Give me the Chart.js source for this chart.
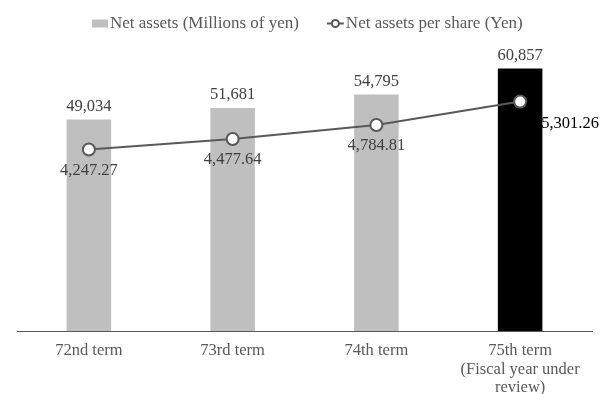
<!DOCTYPE html>
<html>
<head>
<meta charset="utf-8">
<title>Net assets</title>
<script src="https://cdn.jsdelivr.net/npm/chart.js"></script>
<style>
  html, body { margin: 0; padding: 0; background: #fff; }
  #wrap { width: 613px; height: 394px; }
</style>
</head>
<body>
<div id="wrap"><canvas id="assetsChart"></canvas></div>
<script>
// fiscal terms and the two series
const terms = ['72nd term', '73rd term', '74th term', ['75th term', '(Fiscal year under', 'review)']];
const netAssets = [49034, 51681, 54795, 60857];       // millions of yen
const perShare = [4247.27, 4477.64, 4784.81, 5301.26]; // yen
const seriesNames = ['Net assets (Millions of yen)', 'Net assets per share (Yen)'];

const FONT = '"Liberation Serif", "Times New Roman", serif';
const FONT_SIZE = 16.5;
const GREY_TEXT = '#595959';
const LABEL_TEXT = '#404040';
const LINE_GREY = '#595959';

// current year bar is highlighted in black
const barColors = netAssets.map((v, i) => i === netAssets.length - 1 ? '#000000' : '#bfbfbf');

// legend drawn at the top: grey box + line-with-marker
const topLegend = {
    id: 'topLegend',
    afterDraw(chart) {
        const ctx = chart.ctx;
        ctx.save();
        ctx.font = '17px ' + FONT;
        ctx.textBaseline = 'middle';
        ctx.textAlign = 'left';
        const y = 23.5;
        const t1 = ctx.measureText(seriesNames[0]).width;
        let x = 92;

        ctx.fillStyle = '#bfbfbf';
        ctx.fillRect(x, y - 4, 16, 8);
        x += 18;
        ctx.fillStyle = GREY_TEXT;
        ctx.fillText(seriesNames[0], x, y);
        x += t1 + 28;

        ctx.strokeStyle = LINE_GREY;
        ctx.lineWidth = 2;
        ctx.beginPath();
        ctx.moveTo(x, y);
        ctx.lineTo(x + 17, y);
        ctx.stroke();
        ctx.beginPath();
        ctx.arc(x + 8.5, y, 3.5, 0, Math.PI * 2);
        ctx.fillStyle = '#fff';
        ctx.fill();
        ctx.stroke();
        x += 19;
        ctx.fillStyle = GREY_TEXT;
        ctx.fillText(seriesNames[1], x, y);
        ctx.restore();
    }
};

// value labels: above bars, below line points (last one to the right)
const valueLabels = {
    id: 'valueLabels',
    afterDatasetsDraw(chart) {
        const ctx = chart.ctx;
        ctx.save();
        ctx.font = FONT_SIZE + 'px ' + FONT;
        ctx.textBaseline = 'middle';
        chart.getDatasetMeta(0).data.forEach((bar, i) => {
            ctx.textAlign = 'center';
            ctx.fillStyle = LABEL_TEXT;
            ctx.fillText(netAssets[i].toLocaleString('en-US'), bar.x, bar.y - 13);
        });
        chart.getDatasetMeta(1).data.forEach((pt, i) => {
            const txt = perShare[i].toLocaleString('en-US', { minimumFractionDigits: 2 });
            if (i === perShare.length - 1) {
                ctx.textAlign = 'left';
                ctx.fillStyle = '#000';
                ctx.fillText(txt, pt.x + 21, pt.y + 22);
            } else {
                ctx.textAlign = 'center';
                ctx.fillStyle = LABEL_TEXT;
                ctx.fillText(txt, pt.x, pt.y + 21);
            }
        });
        ctx.restore();
    }
};

new Chart(document.getElementById('assetsChart'), {
    data: {
        labels: terms,
        datasets: [
            {
                type: 'bar',
                label: seriesNames[0],
                data: netAssets,
                backgroundColor: barColors,
                yAxisID: 'y',
                order: 2,
                categoryPercentage: 0.31,
                barPercentage: 1
            },
            {
                type: 'line',
                label: seriesNames[1],
                data: perShare,
                yAxisID: 'y2',
                order: 1,
                borderColor: LINE_GREY,
                borderWidth: 2,
                tension: 0,
                pointRadius: 6,
                pointBorderWidth: 2,
                pointBackgroundColor: '#ffffff',
                pointBorderColor: LINE_GREY
            }
        ]
    },
    options: {
        responsive: true,
        maintainAspectRatio: false,
        animation: false,
        layout: { padding: { top: 29, left: 17, right: 21, bottom: 0 } },
        plugins: {
            legend: { display: false },
            tooltip: { enabled: false }
        },
        scales: {
            x: {
                grid: { display: false, drawTicks: false },
                border: { display: true, color: LINE_GREY, width: 1 },
                ticks: {
                    color: GREY_TEXT,
                    font: { family: FONT, size: FONT_SIZE, lineHeight: 1.1 },
                    padding: 11,
                    maxRotation: 0,
                    autoSkip: false
                },
                // keep the category band a fixed height below the baseline
                afterFit(scale) { scale.height = 63; }
            },
            y: { display: false, min: 0, max: 70000 },
            y2: { display: false, position: 'right', min: 250, max: 6900 }
        }
    },
    plugins: [valueLabels, topLegend]
});
</script>
</body>
</html>
